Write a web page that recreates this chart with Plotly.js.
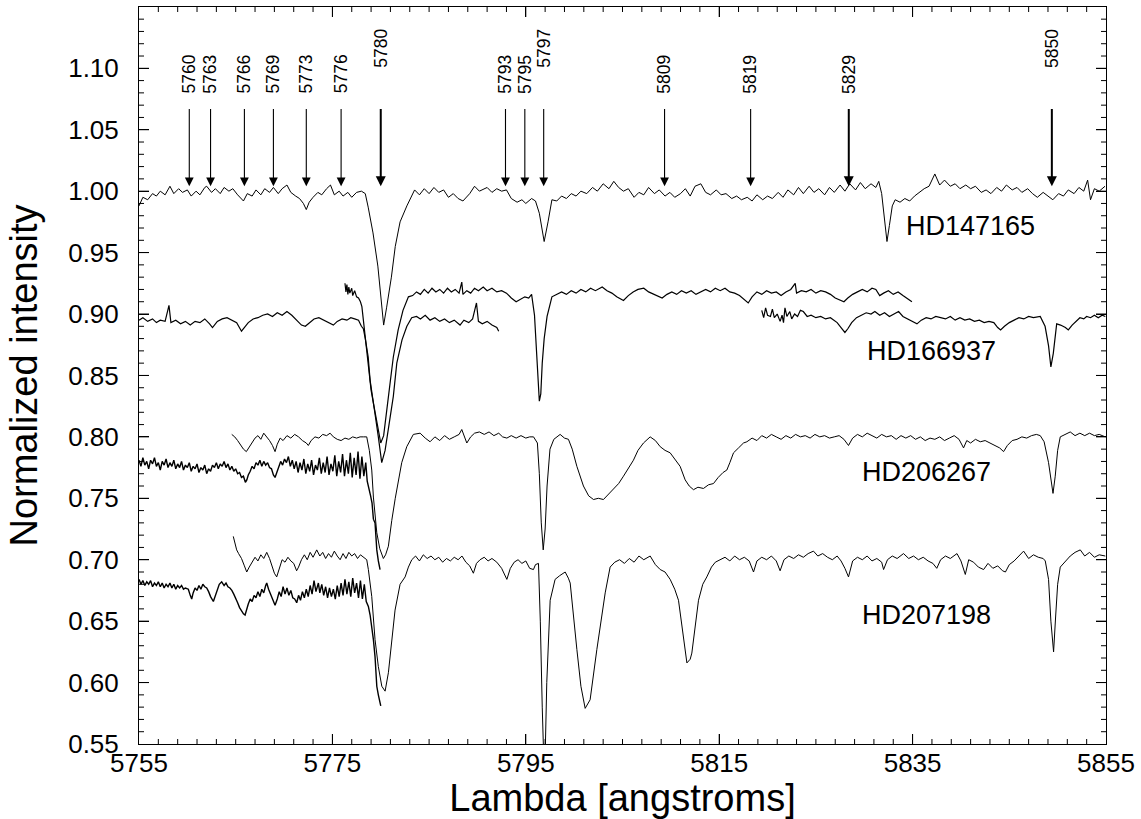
<!DOCTYPE html>
<html><head><meta charset="utf-8">
<script src="https://cdn.plot.ly/plotly-3.0.1.min.js"></script>
<style>body{margin:0;background:#fff}</style>
</head><body><div id="chart" style="width:1141px;height:819px"></div>
<script>
// ---------- DATA (wavelength [A], normalized intensity) ----------
const hd147165 = [[5755.0,0.988],[5755.4,0.995],[5755.9,0.993],[5756.4,0.998],[5756.8,0.996],[5757.2,1.000],[5757.7,0.997],[5758.2,1.004],[5758.6,0.998],[5759.1,1.002],[5759.5,0.999],[5760.0,1.001],[5760.4,0.996],[5760.9,1.000],[5761.3,0.997],[5761.8,1.003],[5762.0,1.004],[5762.5,0.999],[5762.9,1.002],[5763.4,0.998],[5763.8,1.003],[5764.3,1.000],[5764.7,1.002],[5765.2,0.997],[5765.8,0.992],[5766.2,0.998],[5766.7,0.996],[5767.1,1.001],[5767.6,0.997],[5768.0,1.002],[5768.5,0.999],[5768.9,1.003],[5769.4,0.998],[5769.8,1.002],[5770.3,1.005],[5770.7,0.999],[5771.2,0.996],[5771.6,0.994],[5772.0,0.990],[5772.3,0.985],[5772.6,0.991],[5773.0,0.995],[5773.5,0.999],[5773.9,0.997],[5774.4,1.002],[5774.8,1.005],[5775.2,0.997],[5775.7,1.000],[5776.1,0.996],[5776.6,0.999],[5777.0,0.995],[5777.5,0.999],[5778.0,1.000],[5778.4,0.998],[5778.7,0.987],[5779.2,0.966],[5779.7,0.939],[5780.0,0.912],[5780.3,0.891],[5780.6,0.905],[5781.1,0.930],[5781.5,0.955],[5782.0,0.975],[5782.7,0.988],[5783.2,0.996],[5783.5,1.001],[5784.0,0.997],[5784.5,1.002],[5785.0,0.998],[5785.5,1.003],[5786.0,0.999],[5786.5,1.001],[5787.0,0.995],[5787.5,0.998],[5788.0,0.994],[5788.5,0.992],[5789.2,0.998],[5789.7,1.004],[5790.2,1.000],[5791.0,1.003],[5791.5,0.999],[5792.0,1.002],[5792.5,1.000],[5793.0,1.001],[5793.5,0.994],[5794.1,0.991],[5794.6,0.993],[5795.0,0.990],[5795.6,0.994],[5796.0,0.992],[5796.4,0.982],[5796.9,0.959],[5797.3,0.975],[5797.7,0.993],[5798.2,0.992],[5798.7,0.996],[5799.2,0.994],[5799.7,0.998],[5800.2,0.996],[5800.7,1.000],[5801.3,0.998],[5801.9,1.003],[5802.4,1.000],[5803.0,1.006],[5803.6,1.002],[5804.1,1.008],[5804.6,1.003],[5805.1,1.000],[5805.6,1.002],[5806.2,0.995],[5806.7,0.999],[5807.2,0.997],[5807.7,1.003],[5808.3,0.998],[5808.8,1.001],[5809.4,0.996],[5809.9,0.999],[5810.4,0.995],[5811.0,0.998],[5811.5,1.002],[5812.0,0.996],[5812.5,1.004],[5813.1,1.006],[5813.6,0.999],[5814.1,0.997],[5814.7,1.001],[5815.2,0.997],[5815.7,0.998],[5816.3,0.994],[5816.8,0.996],[5817.3,0.993],[5817.9,0.995],[5818.4,0.992],[5818.9,0.997],[5819.5,0.993],[5820.0,0.996],[5820.5,0.994],[5821.1,0.999],[5821.6,0.995],[5822.1,1.001],[5822.7,0.997],[5823.2,1.003],[5823.7,0.998],[5824.3,1.004],[5824.8,0.999],[5825.3,1.002],[5825.9,0.997],[5826.4,1.003],[5826.9,0.999],[5827.5,1.005],[5828.0,1.000],[5828.5,1.006],[5829.1,1.001],[5829.6,1.007],[5830.1,1.002],[5830.7,1.006],[5831.2,1.003],[5831.5,1.008],[5831.8,0.998],[5832.1,0.975],[5832.35,0.959],[5832.6,0.972],[5832.9,0.988],[5833.2,0.993],[5833.7,0.991],[5834.2,0.994],[5834.7,0.992],[5835.2,0.996],[5835.7,0.999],[5836.2,1.002],[5836.7,1.004],[5837.3,1.014],[5837.8,1.005],[5838.3,1.009],[5838.9,1.004],[5839.4,1.006],[5839.9,1.002],[5840.5,1.005],[5841.0,1.002],[5841.5,1.004],[5842.1,0.999],[5842.6,1.001],[5843.1,0.998],[5843.7,1.003],[5844.2,1.000],[5844.7,1.005],[5845.3,1.001],[5845.8,1.003],[5846.3,0.999],[5846.9,1.002],[5847.4,0.998],[5847.9,0.995],[5848.5,0.999],[5849.0,0.996],[5849.5,0.993],[5850.1,0.998],[5850.6,0.996],[5851.1,1.001],[5851.7,0.998],[5852.2,1.003],[5852.7,1.000],[5853.1,1.009],[5853.4,0.993],[5853.8,1.002],[5854.3,1.000],[5854.9,1.004]];

const hd166937_a = [[5755.0,0.895],[5755.4,0.897],[5755.9,0.894],[5756.4,0.896],[5756.8,0.893],[5757.2,0.895],[5757.7,0.894],[5758.1,0.907],[5758.3,0.893],[5758.8,0.895],[5759.3,0.892],[5759.8,0.894],[5760.3,0.891],[5760.8,0.894],[5761.3,0.893],[5761.8,0.896],[5762.3,0.892],[5762.6,0.889],[5763.1,0.894],[5763.6,0.896],[5764.1,0.897],[5764.6,0.895],[5765.1,0.893],[5765.6,0.886],[5765.9,0.889],[5766.3,0.893],[5766.8,0.896],[5767.3,0.897],[5767.8,0.899],[5768.3,0.900],[5768.8,0.898],[5769.3,0.901],[5769.8,0.899],[5770.3,0.902],[5770.8,0.899],[5771.3,0.895],[5771.8,0.891],[5772.2,0.890],[5772.6,0.893],[5773.1,0.896],[5773.6,0.897],[5774.1,0.895],[5774.6,0.893],[5775.1,0.891],[5775.5,0.894],[5776.0,0.896],[5776.5,0.895],[5776.9,0.897],[5777.3,0.896],[5777.7,0.895],[5778.0,0.890],[5778.2,0.888],[5778.4,0.880],[5778.7,0.865],[5778.9,0.846],[5779.2,0.832],[5779.4,0.819],[5779.75,0.800],[5780.1,0.779],[5780.45,0.789],[5780.8,0.808],[5781.3,0.833],[5781.66,0.860],[5782.2,0.879],[5782.7,0.890],[5783.2,0.897],[5783.7,0.898],[5784.1,0.896],[5784.6,0.899],[5785.1,0.895],[5785.6,0.897],[5786.1,0.894],[5786.6,0.896],[5787.1,0.893],[5787.6,0.895],[5788.2,0.891],[5788.6,0.895],[5789.1,0.893],[5789.5,0.896],[5789.9,0.909],[5790.1,0.894],[5790.5,0.892],[5791.0,0.894],[5791.5,0.891],[5792.0,0.889],[5792.2,0.886]];

const hd166937_b = [[5776.3,0.925],[5776.4,0.918],[5776.5,0.924],[5776.6,0.916],[5776.7,0.922],[5776.8,0.917],[5777.0,0.921],[5777.1,0.915],[5777.3,0.919],[5777.5,0.914],[5777.7,0.913],[5777.9,0.910],[5778.05,0.906],[5778.2,0.895],[5778.4,0.882],[5778.7,0.855],[5779.0,0.838],[5779.25,0.827],[5779.65,0.808],[5780.0,0.795],[5780.3,0.801],[5780.6,0.822],[5781.0,0.846],[5781.3,0.865],[5781.8,0.887],[5782.3,0.903],[5782.86,0.914],[5783.3,0.915],[5783.7,0.918],[5784.1,0.916],[5784.5,0.920],[5784.9,0.917],[5785.3,0.921],[5785.7,0.918],[5786.1,0.920],[5786.5,0.917],[5786.9,0.921],[5787.3,0.918],[5787.7,0.920],[5788.1,0.917],[5788.38,0.926],[5788.5,0.916],[5788.9,0.919],[5789.3,0.917],[5789.7,0.921],[5790.1,0.919],[5790.6,0.922],[5791.0,0.919],[5791.5,0.921],[5792.0,0.918],[5792.5,0.919],[5793.0,0.917],[5793.5,0.913],[5794.0,0.910],[5794.4,0.912],[5794.9,0.914],[5795.3,0.913],[5795.6,0.916],[5795.9,0.899],[5796.1,0.870],[5796.25,0.845],[5796.4,0.829],[5796.55,0.835],[5796.7,0.860],[5796.9,0.880],[5797.2,0.898],[5797.7,0.914],[5798.2,0.916],[5798.7,0.918],[5799.2,0.916],[5799.7,0.919],[5800.2,0.917],[5800.7,0.920],[5801.2,0.918],[5801.7,0.921],[5802.2,0.919],[5802.9,0.922],[5803.4,0.919],[5803.9,0.917],[5804.4,0.914],[5805.1,0.911],[5805.6,0.915],[5806.1,0.918],[5806.6,0.920],[5807.2,0.921],[5807.7,0.918],[5808.2,0.916],[5808.7,0.914],[5809.1,0.913],[5809.6,0.916],[5810.1,0.918],[5810.6,0.916],[5811.1,0.919],[5811.6,0.917],[5812.1,0.919],[5812.6,0.916],[5813.1,0.918],[5813.6,0.920],[5814.1,0.918],[5814.6,0.921],[5815.1,0.919],[5815.6,0.921],[5816.1,0.918],[5816.6,0.917],[5817.1,0.915],[5817.6,0.912],[5818.0,0.909],[5818.4,0.914],[5818.9,0.918],[5819.4,0.916],[5819.9,0.919],[5820.4,0.917],[5820.9,0.918],[5821.4,0.915],[5821.9,0.918],[5822.4,0.920],[5822.86,0.925],[5823.0,0.917],[5823.5,0.919],[5824.0,0.918],[5824.5,0.920],[5825.0,0.917],[5825.5,0.919],[5826.0,0.918],[5826.5,0.916],[5827.0,0.913],[5827.5,0.911],[5827.9,0.910],[5828.3,0.913],[5828.8,0.916],[5829.3,0.918],[5829.8,0.920],[5830.3,0.918],[5830.8,0.921],[5831.2,0.920],[5831.6,0.915],[5832.0,0.917],[5832.5,0.919],[5833.0,0.916],[5833.5,0.918],[5834.0,0.915],[5834.5,0.912],[5834.93,0.910]];

const hd166937_c = [[5819.4,0.903],[5819.6,0.897],[5819.8,0.905],[5820.0,0.899],[5820.3,0.898],[5820.5,0.904],[5820.7,0.897],[5821.0,0.900],[5821.3,0.894],[5821.5,0.899],[5821.65,0.893],[5821.8,0.905],[5822.0,0.898],[5822.3,0.902],[5822.5,0.896],[5822.8,0.900],[5823.1,0.898],[5823.4,0.903],[5823.7,0.902],[5824.1,0.898],[5824.5,0.899],[5825.0,0.897],[5825.5,0.898],[5826.0,0.896],[5826.5,0.897],[5826.8,0.895],[5827.2,0.893],[5827.6,0.889],[5828.0,0.885],[5828.3,0.888],[5828.7,0.893],[5829.2,0.897],[5829.7,0.899],[5830.2,0.901],[5830.7,0.900],[5831.1,0.902],[5831.6,0.899],[5832.1,0.901],[5832.6,0.898],[5833.1,0.900],[5833.55,0.902],[5834.0,0.898],[5834.5,0.896],[5835.0,0.894],[5835.45,0.892],[5835.9,0.895],[5836.4,0.897],[5836.9,0.896],[5837.4,0.898],[5837.9,0.897],[5838.4,0.896],[5838.9,0.898],[5839.4,0.895],[5839.9,0.897],[5840.4,0.895],[5840.9,0.896],[5841.4,0.894],[5841.9,0.895],[5842.4,0.893],[5842.9,0.894],[5843.4,0.893],[5843.8,0.889],[5844.1,0.887],[5844.5,0.890],[5845.0,0.893],[5845.5,0.895],[5846.0,0.897],[5846.5,0.896],[5847.0,0.898],[5847.5,0.897],[5848.2,0.898],[5848.7,0.890],[5849.06,0.874],[5849.3,0.857],[5849.55,0.868],[5849.9,0.892],[5850.3,0.891],[5850.8,0.889],[5851.1,0.887],[5851.5,0.891],[5851.9,0.894],[5852.3,0.897],[5852.7,0.896],[5853.0,0.898],[5853.4,0.897],[5853.8,0.899],[5854.2,0.897],[5854.6,0.899],[5854.93,0.898]];

const hd206267_a = [[5755.0,0.781],[5755.2,0.776],[5755.4,0.783],[5755.6,0.777],[5755.8,0.780],[5756.0,0.774],[5756.2,0.781],[5756.4,0.778],[5756.6,0.783],[5756.8,0.776],[5757.0,0.779],[5757.2,0.773],[5757.4,0.780],[5757.6,0.777],[5757.8,0.782],[5758.0,0.775],[5758.2,0.779],[5758.4,0.776],[5758.6,0.781],[5758.8,0.774],[5759.0,0.778],[5759.2,0.775],[5759.4,0.780],[5759.6,0.773],[5759.8,0.777],[5760.0,0.775],[5760.2,0.779],[5760.4,0.772],[5760.6,0.776],[5760.8,0.774],[5761.0,0.778],[5761.2,0.771],[5761.4,0.775],[5761.6,0.773],[5761.8,0.777],[5762.0,0.770],[5762.2,0.774],[5762.4,0.772],[5762.6,0.777],[5762.8,0.775],[5763.0,0.779],[5763.2,0.774],[5763.4,0.778],[5763.6,0.776],[5763.8,0.780],[5764.0,0.775],[5764.2,0.778],[5764.4,0.773],[5764.6,0.776],[5764.8,0.772],[5765.0,0.774],[5765.2,0.770],[5765.4,0.771],[5765.6,0.767],[5765.8,0.768],[5766.0,0.763],[5766.15,0.765],[5766.3,0.769],[5766.5,0.772],[5766.7,0.776],[5766.9,0.774],[5767.1,0.779],[5767.3,0.777],[5767.5,0.781],[5767.7,0.776],[5767.9,0.780],[5768.1,0.777],[5768.3,0.779],[5768.5,0.775],[5768.7,0.774],[5768.9,0.769],[5769.07,0.767],[5769.25,0.771],[5769.45,0.776],[5769.65,0.780],[5769.85,0.777],[5770.05,0.782],[5770.25,0.779],[5770.45,0.784],[5770.65,0.776],[5770.85,0.781],[5771.05,0.774],[5771.25,0.780],[5771.45,0.771],[5771.65,0.779],[5771.85,0.773],[5772.05,0.782],[5772.25,0.770],[5772.45,0.778],[5772.65,0.772],[5772.85,0.781],[5773.05,0.769],[5773.25,0.777],[5773.45,0.773],[5773.65,0.783],[5773.85,0.770],[5774.05,0.779],[5774.25,0.771],[5774.45,0.784],[5774.65,0.769],[5774.85,0.778],[5775.05,0.772],[5775.25,0.785],[5775.45,0.768],[5775.65,0.780],[5775.85,0.771],[5776.05,0.786],[5776.25,0.768],[5776.45,0.781],[5776.65,0.770],[5776.85,0.787],[5777.05,0.767],[5777.25,0.783],[5777.45,0.769],[5777.65,0.788],[5777.85,0.766],[5778.05,0.784],[5778.25,0.768],[5778.45,0.779],[5778.6,0.764],[5778.8,0.758],[5778.95,0.752],[5779.1,0.746],[5779.24,0.733],[5779.41,0.730],[5779.59,0.708],[5779.75,0.699],[5779.93,0.692]];

const hd206267_b = [[5764.59,0.802],[5764.9,0.800],[5765.2,0.797],[5765.5,0.793],[5765.8,0.790],[5766.1,0.788],[5766.4,0.792],[5766.7,0.796],[5767.0,0.799],[5767.3,0.801],[5767.6,0.798],[5767.9,0.803],[5768.2,0.800],[5768.5,0.797],[5768.8,0.793],[5769.07,0.788],[5769.3,0.794],[5769.6,0.799],[5769.9,0.797],[5770.3,0.801],[5770.7,0.799],[5771.1,0.802],[5771.5,0.800],[5771.9,0.797],[5772.3,0.795],[5772.51,0.793],[5772.8,0.797],[5773.2,0.800],[5773.6,0.799],[5774.0,0.802],[5774.4,0.801],[5774.76,0.803],[5775.1,0.800],[5775.5,0.798],[5775.9,0.797],[5776.3,0.799],[5776.7,0.798],[5777.1,0.800],[5777.5,0.799],[5777.86,0.800],[5778.2,0.800],[5778.55,0.800],[5778.82,0.789],[5779.07,0.773],[5779.24,0.751],[5779.41,0.735],[5779.59,0.722],[5779.9,0.709],[5780.27,0.701],[5780.5,0.704],[5780.79,0.711],[5781.14,0.732],[5781.5,0.750],[5782.17,0.779],[5782.69,0.792],[5783.37,0.802],[5784.07,0.803],[5784.6,0.799],[5785.1,0.796],[5785.6,0.800],[5786.1,0.797],[5786.6,0.801],[5787.1,0.798],[5787.6,0.800],[5788.1,0.802],[5788.38,0.806],[5788.9,0.795],[5789.3,0.800],[5789.7,0.803],[5790.2,0.804],[5790.7,0.802],[5791.2,0.804],[5791.7,0.801],[5792.2,0.803],[5792.6,0.800],[5793.04,0.799],[5793.5,0.801],[5794.0,0.799],[5794.5,0.801],[5795.0,0.799],[5795.4,0.800],[5795.8,0.800],[5796.2,0.795],[5796.4,0.770],[5796.6,0.730],[5796.8,0.708],[5797.0,0.725],[5797.2,0.760],[5797.5,0.790],[5797.9,0.798],[5798.55,0.802],[5799.0,0.799],[5799.41,0.798],[5799.8,0.790],[5800.28,0.776],[5800.96,0.760],[5801.5,0.752],[5802.0,0.749],[5802.5,0.750],[5803.03,0.749],[5803.5,0.753],[5804.06,0.757],[5804.6,0.762],[5805.1,0.768],[5805.6,0.774],[5806.13,0.781],[5806.6,0.789],[5807.17,0.795],[5807.86,0.800],[5808.4,0.797],[5808.9,0.792],[5809.4,0.789],[5809.93,0.787],[5810.4,0.782],[5810.96,0.776],[5811.48,0.765],[5811.9,0.760],[5812.34,0.757],[5812.8,0.759],[5813.37,0.758],[5813.9,0.761],[5814.41,0.762],[5814.9,0.767],[5815.4,0.771],[5815.79,0.773],[5816.1,0.779],[5816.48,0.787],[5817.0,0.791],[5817.51,0.795],[5817.86,0.796],[5818.4,0.799],[5818.9,0.797],[5819.4,0.801],[5819.9,0.799],[5820.4,0.802],[5820.9,0.800],[5821.4,0.798],[5821.9,0.801],[5822.4,0.799],[5822.9,0.802],[5823.4,0.800],[5823.9,0.801],[5824.4,0.799],[5824.9,0.802],[5825.4,0.800],[5825.9,0.801],[5826.4,0.799],[5826.9,0.800],[5827.4,0.801],[5827.9,0.798],[5828.37,0.793],[5828.8,0.799],[5829.3,0.802],[5829.8,0.800],[5830.3,0.803],[5830.8,0.801],[5831.3,0.799],[5831.8,0.802],[5832.3,0.800],[5832.8,0.801],[5833.3,0.798],[5833.8,0.801],[5834.3,0.799],[5834.8,0.801],[5835.3,0.798],[5835.8,0.800],[5836.3,0.797],[5836.8,0.799],[5837.3,0.798],[5837.8,0.800],[5838.3,0.797],[5838.8,0.799],[5839.3,0.801],[5839.8,0.798],[5840.27,0.791],[5840.6,0.797],[5841.0,0.795],[5841.5,0.798],[5842.0,0.796],[5842.5,0.797],[5843.0,0.795],[5843.5,0.793],[5844.0,0.791],[5844.41,0.788],[5844.8,0.793],[5845.3,0.797],[5845.8,0.798],[5846.3,0.800],[5846.8,0.799],[5847.3,0.801],[5847.8,0.802],[5848.2,0.801],[5848.6,0.796],[5849.06,0.779],[5849.3,0.765],[5849.52,0.754],[5849.75,0.768],[5850.0,0.789],[5850.27,0.800],[5850.8,0.802],[5851.3,0.804],[5851.8,0.801],[5852.3,0.803],[5852.8,0.801],[5853.3,0.803],[5853.8,0.801],[5854.3,0.802],[5854.93,0.800]];

const hd207198_a = [[5755.0,0.684],[5755.2,0.680],[5755.4,0.683],[5755.6,0.679],[5755.8,0.682],[5756.0,0.680],[5756.2,0.683],[5756.4,0.678],[5756.6,0.681],[5756.8,0.679],[5757.0,0.682],[5757.2,0.678],[5757.4,0.681],[5757.6,0.677],[5757.8,0.680],[5758.0,0.678],[5758.2,0.681],[5758.4,0.677],[5758.6,0.680],[5758.8,0.676],[5759.0,0.679],[5759.2,0.677],[5759.4,0.679],[5759.6,0.676],[5759.8,0.677],[5760.1,0.676],[5760.3,0.671],[5760.45,0.668],[5760.6,0.673],[5760.8,0.677],[5761.0,0.675],[5761.2,0.679],[5761.4,0.676],[5761.6,0.680],[5761.8,0.678],[5762.0,0.677],[5762.2,0.674],[5762.4,0.670],[5762.69,0.666],[5762.9,0.671],[5763.1,0.676],[5763.3,0.680],[5763.55,0.682],[5763.8,0.679],[5764.0,0.681],[5764.2,0.678],[5764.4,0.677],[5764.6,0.675],[5764.8,0.672],[5765.0,0.669],[5765.2,0.665],[5765.4,0.661],[5765.6,0.658],[5765.8,0.656],[5765.97,0.655],[5766.1,0.659],[5766.3,0.664],[5766.5,0.668],[5766.7,0.666],[5766.9,0.671],[5767.1,0.669],[5767.3,0.674],[5767.5,0.670],[5767.7,0.676],[5767.9,0.673],[5768.1,0.679],[5768.21,0.681],[5768.4,0.676],[5768.6,0.672],[5768.8,0.667],[5769.07,0.663],[5769.3,0.668],[5769.5,0.674],[5769.7,0.670],[5769.9,0.678],[5770.1,0.672],[5770.3,0.677],[5770.5,0.671],[5770.7,0.675],[5770.9,0.669],[5771.1,0.668],[5771.31,0.665],[5771.5,0.671],[5771.7,0.667],[5771.9,0.674],[5772.1,0.669],[5772.3,0.676],[5772.5,0.670],[5772.7,0.679],[5772.9,0.672],[5773.1,0.683],[5773.3,0.674],[5773.55,0.681],[5773.7,0.673],[5773.9,0.680],[5774.1,0.671],[5774.3,0.678],[5774.5,0.669],[5774.7,0.677],[5774.9,0.670],[5775.1,0.676],[5775.3,0.668],[5775.5,0.679],[5775.7,0.670],[5775.9,0.681],[5776.1,0.671],[5776.3,0.684],[5776.5,0.672],[5776.7,0.682],[5776.9,0.670],[5777.1,0.685],[5777.3,0.673],[5777.5,0.681],[5777.7,0.669],[5777.9,0.683],[5778.1,0.668],[5778.3,0.680],[5778.5,0.666],[5778.72,0.662],[5778.9,0.655],[5779.07,0.646],[5779.24,0.635],[5779.41,0.621],[5779.59,0.597],[5779.75,0.590],[5779.93,0.583],[5780.0,0.581]];

const hd207198_b = [[5764.75,0.719],[5764.9,0.714],[5765.1,0.708],[5765.3,0.705],[5765.6,0.701],[5765.9,0.695],[5766.14,0.690],[5766.4,0.694],[5766.7,0.698],[5767.0,0.702],[5767.3,0.699],[5767.6,0.704],[5767.9,0.701],[5768.21,0.706],[5768.5,0.701],[5768.8,0.694],[5769.0,0.689],[5769.24,0.686],[5769.5,0.693],[5769.8,0.700],[5770.1,0.698],[5770.4,0.702],[5770.7,0.699],[5771.0,0.697],[5771.3,0.691],[5771.5,0.694],[5771.8,0.700],[5772.1,0.704],[5772.4,0.700],[5772.7,0.706],[5773.0,0.702],[5773.38,0.708],[5773.7,0.703],[5774.0,0.706],[5774.3,0.701],[5774.6,0.705],[5774.9,0.702],[5775.2,0.707],[5775.5,0.703],[5775.8,0.700],[5776.1,0.705],[5776.4,0.701],[5776.7,0.706],[5777.0,0.703],[5777.3,0.705],[5777.6,0.701],[5777.9,0.704],[5778.2,0.702],[5778.55,0.700],[5778.72,0.692],[5779.07,0.670],[5779.41,0.635],[5779.75,0.613],[5780.11,0.597],[5780.45,0.593],[5780.79,0.608],[5781.14,0.635],[5781.48,0.659],[5782.0,0.680],[5782.52,0.686],[5782.86,0.694],[5783.21,0.700],[5783.6,0.703],[5784.0,0.699],[5784.4,0.704],[5784.8,0.701],[5785.2,0.703],[5785.6,0.700],[5786.0,0.702],[5786.4,0.698],[5786.8,0.701],[5787.2,0.699],[5787.6,0.702],[5788.0,0.700],[5788.4,0.703],[5788.8,0.698],[5789.2,0.695],[5789.58,0.689],[5789.9,0.697],[5790.27,0.700],[5790.7,0.702],[5791.1,0.699],[5791.5,0.701],[5792.0,0.698],[5792.5,0.693],[5793.04,0.684],[5793.4,0.693],[5793.8,0.698],[5794.2,0.700],[5794.6,0.697],[5795.0,0.699],[5795.4,0.693],[5795.79,0.692],[5796.0,0.696],[5796.31,0.697],[5796.5,0.650],[5796.7,0.580],[5796.85,0.540],[5797.0,0.540],[5797.17,0.600],[5797.52,0.667],[5798.03,0.684],[5798.5,0.687],[5799.07,0.690],[5799.4,0.685],[5799.59,0.681],[5800.28,0.627],[5800.7,0.597],[5801.14,0.579],[5801.65,0.586],[5802.35,0.627],[5803.21,0.673],[5803.72,0.694],[5804.2,0.698],[5804.7,0.700],[5805.2,0.697],[5805.7,0.701],[5806.2,0.698],[5806.7,0.703],[5807.2,0.700],[5807.86,0.703],[5808.4,0.696],[5808.9,0.692],[5809.4,0.690],[5809.93,0.684],[5810.4,0.676],[5810.79,0.667],[5811.3,0.635],[5811.66,0.616],[5812.0,0.619],[5812.17,0.624],[5812.86,0.667],[5813.3,0.680],[5813.72,0.686],[5814.2,0.694],[5814.6,0.698],[5815.1,0.700],[5815.6,0.702],[5816.1,0.699],[5816.6,0.703],[5817.1,0.700],[5817.6,0.702],[5818.1,0.699],[5818.55,0.690],[5818.9,0.699],[5819.4,0.702],[5819.9,0.700],[5820.4,0.703],[5820.9,0.699],[5821.3,0.691],[5821.7,0.700],[5822.2,0.703],[5822.7,0.701],[5823.2,0.704],[5823.7,0.702],[5824.2,0.705],[5824.75,0.707],[5825.2,0.703],[5825.7,0.705],[5826.2,0.702],[5826.7,0.700],[5827.2,0.703],[5827.6,0.699],[5828.0,0.693],[5828.37,0.686],[5828.8,0.699],[5829.3,0.702],[5829.8,0.700],[5830.3,0.703],[5830.8,0.699],[5831.3,0.701],[5831.8,0.698],[5832.0,0.692],[5832.4,0.700],[5832.9,0.703],[5833.4,0.701],[5834.06,0.705],[5834.6,0.701],[5835.1,0.703],[5835.6,0.700],[5836.1,0.702],[5836.6,0.699],[5837.1,0.697],[5837.5,0.693],[5837.9,0.700],[5838.4,0.703],[5838.9,0.701],[5839.59,0.705],[5840.0,0.699],[5840.45,0.688],[5840.8,0.700],[5841.3,0.698],[5841.8,0.694],[5842.34,0.692],[5842.8,0.697],[5843.3,0.693],[5843.8,0.695],[5844.3,0.691],[5844.6,0.690],[5845.0,0.696],[5845.5,0.699],[5846.0,0.703],[5846.48,0.707],[5847.0,0.701],[5847.5,0.704],[5848.0,0.702],[5848.5,0.701],[5848.72,0.699],[5849.06,0.684],[5849.3,0.650],[5849.58,0.625],[5849.8,0.655],[5850.0,0.680],[5850.27,0.694],[5850.8,0.699],[5851.3,0.703],[5851.8,0.706],[5852.34,0.708],[5852.8,0.703],[5853.3,0.706],[5853.8,0.702],[5854.3,0.704],[5854.93,0.703]];

// Diffuse interstellar band markers
const bandWavelengths = [5760.2, 5762.4, 5765.9, 5768.9, 5772.3, 5775.9, 5780.0, 5792.9, 5794.9, 5796.85, 5809.35, 5818.25, 5828.4, 5849.4];
const bandLabels = ['5760','5763','5766','5769','5773','5776','5780','5793','5795','5797','5809','5819','5829','5850'];

// Star names
const starNames = ['HD147165','HD166937','HD206267','HD207198'];

// ---------- DRAWING ----------
const W = 1141, H = 819, M = {l: 139, r: 35, t: 7, b: 75};
const PW = W - M.l - M.r, PH = H - M.t - M.b;
const X0 = 5755, X1 = 5855, X_MINOR = 2, X_MAJOR = 20;
const Y0 = 0.55, Y1 = 1.1499, Y_STEPS = 60, Y_MINOR = 0.01;

const segments = [
  {d: hd147165, w: 1},
  {d: hd166937_a, w: 1.2},
  {d: hd166937_b, w: 1.2},
  {d: hd166937_c, w: 1.2},
  {d: hd206267_a, w: 1.4},
  {d: hd206267_b, w: 1},
  {d: hd207198_a, w: 1.4},
  {d: hd207198_b, w: 1}
];
const traces = segments.map(s => ({
  type: 'scatter', mode: 'lines',
  x: s.d.map(p => p[0]), y: s.d.map(p => p[1]),
  line: {color: '#000', width: s.w},
  hoverinfo: 'skip', showlegend: false
}));

// Inside tick marks on all four frame sides, built from the axis tick spacing
// (lengths converted from pixels to axis units through the axis scales).
const pxX = (X1 - X0) / PW, pxY = (Y1 - Y0) / PH;
const tx = [], ty = [];
for (let k = 1; k < (X1 - X0) / X_MINOR; k++) {
  const v = X0 + k * X_MINOR;
  const len = (((v - X0) % X_MAJOR === 0) ? 10 : 5) * pxY;
  tx.push(v, v, null, v, v, null);
  ty.push(Y0, Y0 + len, null, Y1, Y1 - len, null);
}
for (let k = 1; k < Y_STEPS; k++) {
  const v = +(Y0 + k * Y_MINOR).toFixed(2);
  const len = ((k % 5 === 0) ? 10 : 5) * pxX;
  tx.push(X0, X0 + len, null, X1, X1 - len, null);
  ty.push(v, v, null, v, v, null);
}
traces.push({type: 'scatter', mode: 'lines', x: tx, y: ty, connectgaps: false,
  line: {color: '#000', width: 1}, hoverinfo: 'skip', showlegend: false, cliponaxis: false});

const ARROW_TOP = 1.068, ARROW_TIP = 1.004;
const LABEL_LOW = 1.0777, LABEL_HIGH = 1.099;
const raised = ['5780','5797','5850'];
const thickArrows = ['5780','5829','5850'];

const annotations = [];
bandWavelengths.forEach((w, i) => {
  const thick = thickArrows.includes(bandLabels[i]);
  annotations.push({
    x: w, y: ARROW_TIP, ax: w, ay: ARROW_TOP,
    xref: 'x', yref: 'y', axref: 'x', ayref: 'y',
    text: '', showarrow: true, arrowhead: 2,
    arrowsize: thick ? 1 : 1.6, arrowwidth: thick ? 2 : 1.1,
    arrowcolor: '#000', standoff: 0, startstandoff: 0
  });
  annotations.push({
    x: w, y: raised.includes(bandLabels[i]) ? LABEL_HIGH : LABEL_LOW,
    xref: 'x', yref: 'y', text: bandLabels[i], textangle: -90,
    showarrow: false, xanchor: 'center', yanchor: 'bottom',
    font: {size: 17.5, color: '#000'}
  });
});
const starLabelPos = [[5841.0, 0.9713], [5837.0, 0.8695], [5836.4, 0.7717], [5836.4, 0.655]];
starNames.forEach((n, i) => {
  annotations.push({
    x: starLabelPos[i][0], y: starLabelPos[i][1], xref: 'x', yref: 'y',
    text: n, showarrow: false, xanchor: 'center', yanchor: 'middle',
    font: {size: 27, color: '#000'}
  });
});

const frame = {
  ticks: 'inside', tickcolor: '#000', tickwidth: 1,
  showline: true, linecolor: '#000', linewidth: 1, mirror: 'ticks',
  showgrid: false, zeroline: false
};

const layout = {
  width: W, height: H,
  margin: M,
  paper_bgcolor: '#fff', plot_bgcolor: '#fff',
  font: {family: '"Liberation Sans", Arial, Helvetica, sans-serif', color: '#000'},
  showlegend: false,
  xaxis: Object.assign({}, frame, {
    range: [X0, X1], tick0: X0, dtick: X_MAJOR, ticklen: 10,
    tickfont: {size: 26, color: '#000'}, ticklabelstandoff: -4,
    title: {text: 'Lambda [angstroms]', font: {size: 38, color: '#000'}, standoff: 39}
  }),
  yaxis: Object.assign({}, frame, {
    range: [Y0, Y1], tick0: Y0, dtick: 0.05, ticklen: 10, tickformat: '.2f',
    tickfont: {size: 26, color: '#000'}, ticklabelstandoff: 14,
    title: {text: 'Normalized intensity', font: {size: 38, color: '#000'}, standoff: 18}
  }),
  annotations: annotations
};

Plotly.newPlot('chart', traces, layout, {displayModeBar: false});
</script>
</body></html>
